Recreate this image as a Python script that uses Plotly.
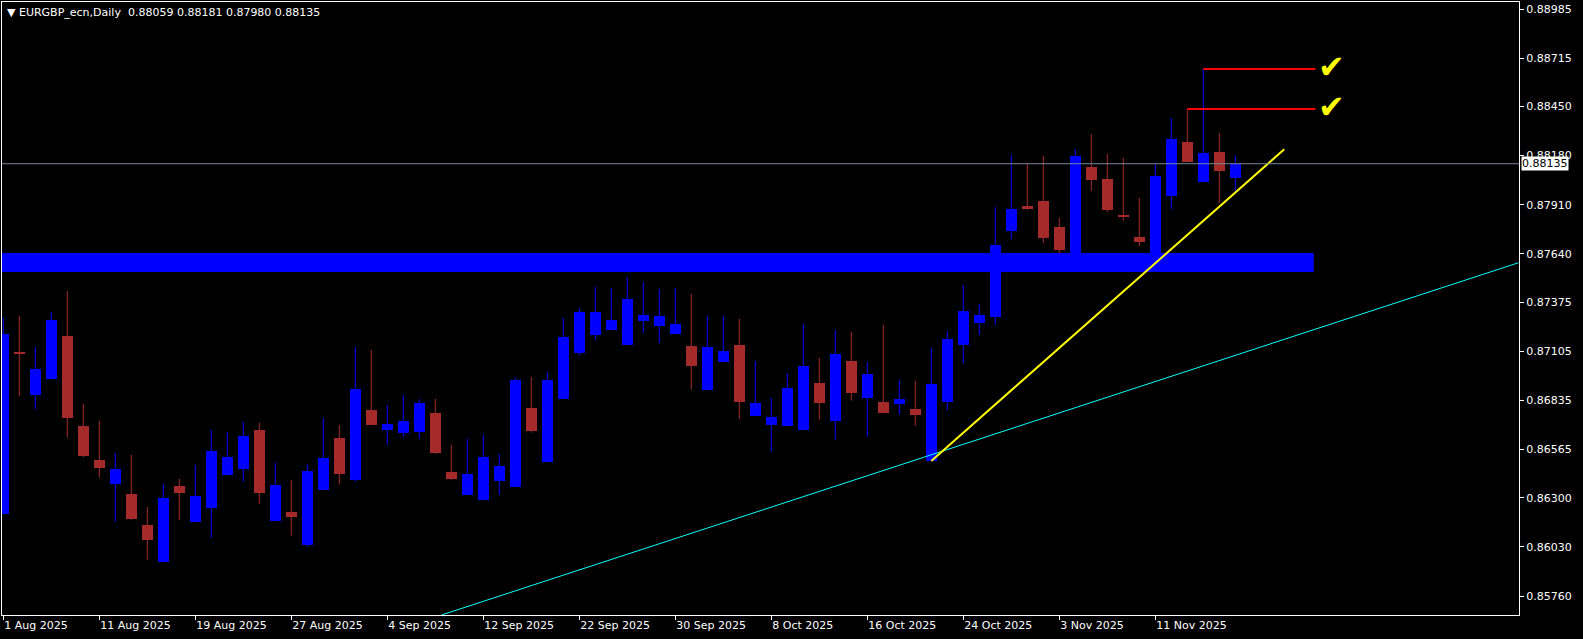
import plotly.graph_objects as go

# ---------------- data ----------------
dates = [
    "2025-08-01", "2025-08-04", "2025-08-05", "2025-08-06", "2025-08-07", "2025-08-08",
    "2025-08-11", "2025-08-12", "2025-08-13", "2025-08-14", "2025-08-15",
    "2025-08-18", "2025-08-19", "2025-08-20", "2025-08-21", "2025-08-22",
    "2025-08-25", "2025-08-26", "2025-08-27", "2025-08-28", "2025-08-29",
    "2025-09-01", "2025-09-02", "2025-09-03", "2025-09-04", "2025-09-05",
    "2025-09-08", "2025-09-09", "2025-09-10", "2025-09-11", "2025-09-12",
    "2025-09-15", "2025-09-16", "2025-09-17", "2025-09-18", "2025-09-19",
    "2025-09-22", "2025-09-23", "2025-09-24", "2025-09-25", "2025-09-26",
    "2025-09-29", "2025-09-30", "2025-10-01", "2025-10-02", "2025-10-03",
    "2025-10-06", "2025-10-07", "2025-10-08", "2025-10-09", "2025-10-10",
    "2025-10-13", "2025-10-14", "2025-10-15", "2025-10-16", "2025-10-17",
    "2025-10-20", "2025-10-21", "2025-10-22", "2025-10-23", "2025-10-24",
    "2025-10-27", "2025-10-28", "2025-10-29", "2025-10-30", "2025-10-31",
    "2025-11-03", "2025-11-04", "2025-11-05", "2025-11-06", "2025-11-07",
    "2025-11-10", "2025-11-11", "2025-11-12", "2025-11-13", "2025-11-14",
    "2025-11-17", "2025-11-18",
]

opens = [
    0.86212, 0.87094, 0.86864, 0.86952, 0.87189, 0.86694,
    0.86507, 0.86377, 0.86321, 0.86150, 0.85949,
    0.86364, 0.86169, 0.86245, 0.86425, 0.86458,
    0.86672, 0.86174, 0.86222, 0.86040, 0.86344,
    0.86628, 0.86399, 0.86782, 0.86674, 0.86656,
    0.86663, 0.86766, 0.86441, 0.86315, 0.86289,
    0.86392, 0.86359, 0.86793, 0.86498, 0.86842,
    0.87095, 0.87194, 0.87221, 0.87139, 0.87271,
    0.87245, 0.87201, 0.87134, 0.86894, 0.87048,
    0.87139, 0.86751, 0.86700, 0.86696, 0.86674,
    0.86930, 0.86722, 0.87051, 0.86850, 0.86826,
    0.86817, 0.86787, 0.86502, 0.86828, 0.87139,
    0.87260, 0.87293, 0.87765, 0.87903, 0.87930,
    0.87787, 0.87620, 0.88117, 0.88051, 0.87853,
    0.87732, 0.87620, 0.87960, 0.88254, 0.88036,
    0.88199, 0.88059,
]

highs = [
    0.87289, 0.87298, 0.87128, 0.87320, 0.87436, 0.86815,
    0.86722, 0.86546, 0.86535, 0.86249, 0.86375,
    0.86403, 0.86480, 0.86672, 0.86661, 0.86716,
    0.86711, 0.86491, 0.86397, 0.86485, 0.86738,
    0.86700, 0.87128, 0.87112, 0.86809, 0.86864,
    0.86842, 0.86842, 0.86590, 0.86623, 0.86645,
    0.86540, 0.86963, 0.86963, 0.86991, 0.87287,
    0.87342, 0.87458, 0.87452, 0.87513, 0.87485,
    0.87447, 0.87452, 0.87419, 0.87298, 0.87298,
    0.87282, 0.87051, 0.86848, 0.86985, 0.87254,
    0.87068, 0.87221, 0.87210, 0.87046, 0.87249,
    0.86947, 0.86941, 0.87123, 0.87216, 0.87469,
    0.87364, 0.87897, 0.88183, 0.88139, 0.88177,
    0.87837, 0.88216, 0.88298, 0.88188, 0.88167,
    0.87947, 0.88134, 0.88386, 0.88436, 0.88655,
    0.88304, 0.88181,
]

lows = [
    0.86212, 0.86859, 0.86787, 0.86952, 0.86630, 0.86524,
    0.86410, 0.86169, 0.86178, 0.85960, 0.85945,
    0.86178, 0.86169, 0.86081, 0.86425, 0.86388,
    0.86267, 0.86174, 0.86092, 0.86030, 0.86344,
    0.86372, 0.86388, 0.86701, 0.86590, 0.86634,
    0.86623, 0.86540, 0.86397, 0.86315, 0.86289,
    0.86315, 0.86359, 0.86657, 0.86498, 0.86842,
    0.87080, 0.87167, 0.87221, 0.87139, 0.87205,
    0.87150, 0.87201, 0.86894, 0.86888, 0.87048,
    0.86733, 0.86751, 0.86553, 0.86696, 0.86674,
    0.86729, 0.86619, 0.86833, 0.86635, 0.86762,
    0.86756, 0.86696, 0.86502, 0.86778, 0.87037,
    0.87194, 0.87249, 0.87721, 0.87881, 0.87700,
    0.87624, 0.87610, 0.87985, 0.87870, 0.87820,
    0.87683, 0.87600, 0.87886, 0.88146, 0.88036,
    0.87919, 0.87980,
]

closes = [
    0.87199, 0.87092, 0.87007, 0.87276, 0.86740, 0.86531,
    0.86465, 0.86458, 0.86185, 0.86070, 0.86299,
    0.86328, 0.86310, 0.86557, 0.86524, 0.86639,
    0.86328, 0.86370, 0.86196, 0.86447, 0.86518,
    0.86432, 0.86897, 0.86701, 0.86705, 0.86722,
    0.86820, 0.86546, 0.86403, 0.86430, 0.86524,
    0.86474, 0.86947, 0.86668, 0.86947, 0.87183,
    0.87320, 0.87320, 0.87276, 0.87392, 0.87304,
    0.87298, 0.87254, 0.87026, 0.87128, 0.87106,
    0.86828, 0.86819, 0.86744, 0.86903, 0.87024,
    0.86819, 0.87090, 0.86877, 0.86980, 0.86767,
    0.86842, 0.86756, 0.86925, 0.87172, 0.87326,
    0.87304, 0.87689, 0.87886, 0.87886, 0.87729,
    0.87663, 0.88177, 0.88046, 0.87881, 0.87842,
    0.87705, 0.88068, 0.88271, 0.88146, 0.88194,
    0.88097, 0.88135,
]

tick_dates = ["2025-08-01", "2025-08-11", "2025-08-19", "2025-08-27", "2025-09-04",
              "2025-09-12", "2025-09-22", "2025-09-30", "2025-10-08", "2025-10-16",
              "2025-10-24", "2025-11-03", "2025-11-11"]
tick_labels = ["1 Aug 2025", "11 Aug 2025", "19 Aug 2025", "27 Aug 2025", "4 Sep 2025",
               "12 Sep 2025", "22 Sep 2025", "30 Sep 2025", "8 Oct 2025", "16 Oct 2025",
               "24 Oct 2025", "3 Nov 2025", "11 Nov 2025"]

price_ticks = [0.88985, 0.88715, 0.88450, 0.88180, 0.87910, 0.87640, 0.87375,
               0.87105, 0.86835, 0.86565, 0.86300, 0.86030, 0.85760]
price_labels = ["0.88985", "0.88715", "0.88450", "0.88180", "0.87910", "0.87640", "0.87375",
                "0.87105", "0.86835", "0.86565", "0.86300", "0.86030", "0.85760"]

symbol_title = "EURGBP_ecn,Daily"
last_price = 0.88135

# drawn objects (bar index, price)
zone_bars = [-3.0, 81.9]
zone_prices = [0.87540, 0.87645]
support_bars = [58.0, 80.06]
support_prices = [0.86502, 0.88214]
channel_bars = [27.4, 94.7]
channel_prices = [0.85656, 0.87591]
level_start_bars = [75.0, 74.0]
level_end_bars = [82.0, 82.0]
level_prices = [0.88655, 0.88436]
check_bar = 83.0

# ---------------- figure ----------------
BULL = "#0000FF"
BEAR = "#A52A2A"
FONT = "DejaVu Sans"

idx = list(range(len(dates)))
fig = go.Figure()

for is_bull, col in ((True, BULL), (False, BEAR)):
    wx, wy, bx, bb, bh = [], [], [], [], []
    for i, o, h, l, c in zip(idx, opens, highs, lows, closes):
        if (c > o) != is_bull:
            continue
        wx += [i, i, None]
        wy += [l, h, None]
        bx.append(i)
        bb.append(min(o, c))
        bh.append(max(abs(c - o), 0.00005))
    fig.add_trace(go.Scatter(x=wx, y=wy, mode="lines", line=dict(color=col, width=1),
                             hoverinfo="skip", showlegend=False))
    fig.add_trace(go.Bar(x=bx, y=bh, base=bb, width=0.6875,
                         marker=dict(color=col, line=dict(width=0)),
                         hoverinfo="skip", showlegend=False))

shapes = []
shapes.append(dict(type="line", xref="x", yref="y", layer="above",
                   x0=channel_bars[0], x1=channel_bars[1],
                   y0=channel_prices[0], y1=channel_prices[1],
                   line=dict(color="#00FFFF", width=1)))
shapes.append(dict(type="rect", xref="x", yref="y", layer="above",
                   x0=zone_bars[0], x1=zone_bars[1],
                   y0=zone_prices[0], y1=zone_prices[1],
                   fillcolor="#0000FF", line=dict(width=0)))
shapes.append(dict(type="line", xref="x", yref="y", layer="above",
                   x0=support_bars[0], x1=support_bars[1],
                   y0=support_prices[0], y1=support_prices[1],
                   line=dict(color="#FFFF00", width=2)))
for xs, xe, p in zip(level_start_bars, level_end_bars, level_prices):
    shapes.append(dict(type="line", xref="x", yref="y", layer="above",
                       x0=xs, x1=xe, y0=p, y1=p,
                       line=dict(color="#FF0000", width=2)))
shapes.append(dict(type="line", xref="paper", yref="y", layer="above",
                   x0=0, x1=1, y0=last_price, y1=last_price,
                   line=dict(color="#778899", width=1)))

annotations = []
for p in level_prices:
    annotations.append(dict(x=check_bar, y=p, xref="x", yref="y", text="<b>\u2714</b>",
                            showarrow=False, xanchor="center", yanchor="middle",
                            yshift=2,
                            font=dict(family=FONT, size=32, color="#FFFF00")))
o, h, l, c = opens[-1], highs[-1], lows[-1], closes[-1]
title = ("\u25BC\u00a0" + symbol_title + "\u00a0\u00a0" +
         "\u00a0".join(f"{v:.5f}" for v in (o, h, l, c)))
annotations.append(dict(x=0, y=1, xref="paper", yref="paper", text=title,
                        showarrow=False, xanchor="left", yanchor="top",
                        xshift=3, yshift=-2,
                        font=dict(family=FONT, size=11, color="#FFFFFF")))
annotations.append(dict(x=1, y=last_price, xref="paper", yref="y",
                        text=f"{last_price:.5f}", showarrow=False,
                        xanchor="left", yanchor="middle", xshift=2,
                        bgcolor="#FFFFFF", borderpad=0,
                        font=dict(family=FONT, size=11, color="#000000")))

tick_pos = [dates.index(d) for d in tick_dates]

fig.update_layout(
    width=1583, height=639,
    margin=dict(l=2, r=64, t=2, b=24),
    paper_bgcolor="#000000", plot_bgcolor="#000000",
    barmode="overlay", bargap=0,
    showlegend=False,
    shapes=shapes, annotations=annotations,
    font=dict(family=FONT, size=11, color="#FFFFFF"),
    xaxis=dict(range=[-0.08125, 94.73], tickmode="array", tickvals=tick_pos,
               ticktext=tick_labels, showgrid=False, zeroline=False,
               showline=True, linecolor="#FFFFFF", linewidth=1, mirror=True,
               ticks="outside", ticklen=4, tickcolor="#FFFFFF",
               ticklabelposition="outside right",
               tickfont=dict(family=FONT, size=11, color="#FFFFFF")),
    yaxis=dict(range=[0.856556, 0.890235], side="right", tickmode="array",
               tickvals=price_ticks, ticktext=price_labels, showgrid=False,
               zeroline=False, showline=True, linecolor="#FFFFFF", linewidth=1,
               mirror=True, ticks="outside", ticklen=4, tickcolor="#FFFFFF",
               tickfont=dict(family=FONT, size=11, color="#FFFFFF")),
)

fig.write_html("out.html",
               config={"displayModeBar": False},
               post_script="document.body.style.margin='0px';document.body.style.overflow='hidden';")
